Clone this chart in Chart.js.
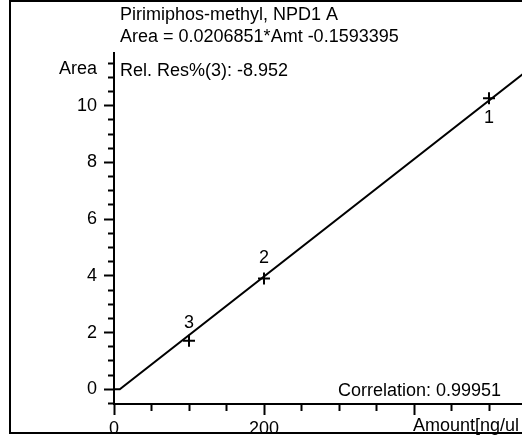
<!DOCTYPE html>
<html><head><meta charset="utf-8">
<script src="https://cdn.jsdelivr.net/npm/chart.js@4/dist/chart.umd.min.js"></script>
<style>
html,body{margin:0;padding:0;overflow:hidden;background:#fff;width:522px;height:441px}
canvas{display:block}
</style></head>
<body><canvas id="c" width="640" height="441"></canvas>
<script>
// ---- data ----
const compound = 'Pirimiphos-methyl, NPD1 A';
const equation = 'Area = 0.0206851*Amt -0.1593395';
const relRes = 'Rel. Res%(3): -8.952';
const correlation = 'Correlation: 0.99951';
const yTitle = 'Area';
const xTitle = 'Amount[ng/ul';
const levelLabels = ['1', '2', '3'];
const amounts = [500, 200, 100];
const areas = [10.26, 3.91, 1.71];
const fitAmounts = [0, 7.7, 600];
const fitAreas = [0, 0, 12.25];
const xTickLabels = [0, 200];
const yTickLabels = [0, 2, 4, 6, 8, 10];

// ---- styling ----
const FONT = '"Liberation Sans", Arial, sans-serif';
const near = (a, b) => Math.abs(a - b) < 1e-6;

const textPlugin = {
  id: 'texts',
  afterDraw(chart) {
    const ctx = chart.ctx;
    ctx.save();
    ctx.strokeStyle = '#000';
    ctx.lineWidth = 2;
    ctx.strokeRect(10, 1, 700, 432);
    ctx.fillStyle = '#000';
    ctx.font = '18px ' + FONT;
    ctx.textBaseline = 'alphabetic';
    ctx.textAlign = 'left';
    ctx.fillText(compound, 120, 20);
    ctx.fillText(equation, 120, 41.5);
    ctx.fillText(relRes, 120, 76);
    ctx.fillText(yTitle, 59, 74);
    ctx.fillText(correlation, 338, 396);
    ctx.fillText(xTitle, 413, 431);
    // point labels
    const xs = chart.scales.x, ys = chart.scales.y;
    const offs = {'1': 25, '2': -15, '3': -13};
    ctx.textAlign = 'center';
    levelLabels.forEach((lab, i) => {
      const px = xs.getPixelForValue(amounts[i]);
      const py = ys.getPixelForValue(areas[i]);
      ctx.fillText(lab, px, py + offs[lab]);
    });
    ctx.restore();
  }
};

new Chart(document.getElementById('c'), {
  type: 'scatter',
  data: {
    datasets: [
      {
        type: 'line',
        data: fitAmounts.map((x, i) => ({x, y: fitAreas[i]})),
        borderColor: '#000', borderWidth: 2, pointRadius: 0, fill: false, tension: 0
      },
      {
        data: amounts.map((x, i) => ({x, y: areas[i]})),
        pointStyle: 'cross', pointRadius: 6, borderWidth: 2,
        borderColor: '#000', backgroundColor: '#000', showLine: false
      }
    ]
  },
  options: {
    responsive: false,
    devicePixelRatio: 1,
    animation: false,
    layout: {padding: {top: 53, right: 16, left: 0, bottom: 0}},
    plugins: {legend: {display: false}, tooltip: {enabled: false}, title: {display: false}},
    scales: {
      x: {
        type: 'linear', min: 0, max: 680,
        afterFit(s) { s.height = 37; },
        border: {display: true, color: '#000', width: 2},
        grid: {
          drawOnChartArea: false, drawTicks: true, color: '#000', tickColor: '#000',
          tickLength: 11, tickWidth: 2,
          tickBorderDash: (c) => (c.tick && near(c.tick.value % 200, 0)) ? [] : [6, 100]
        },
        ticks: {
          stepSize: 50, autoSkip: false, maxRotation: 0, minRotation: 0, includeBounds: false,
          padding: 3, color: '#000', font: {family: FONT, size: 18},
          callback: (v) => xTickLabels.some(t => near(t, v)) ? String(v) : ''
        }
      },
      y: {
        type: 'linear', min: -0.518, max: 11.858,
        afterFit(s) { s.width = 114; },
        border: {display: true, color: '#000', width: 2},
        grid: {
          drawOnChartArea: false, drawTicks: true, color: '#000', tickColor: '#000',
          tickLength: 10, tickWidth: 2,
          tickBorderDash: (c) => (c.tick && yTickLabels.some(t => near(t, c.tick.value))) ? [] : [0, 4, 6, 100]
        },
        ticks: {
          stepSize: 0.5, autoSkip: false, includeBounds: false,
          padding: 7, color: '#000', font: {family: FONT, size: 18},
          callback: (v) => yTickLabels.some(t => near(t, v)) ? String(Math.round(v)) : ''
        }
      }
    }
  },
  plugins: [textPlugin]
});
</script>
</body></html>
